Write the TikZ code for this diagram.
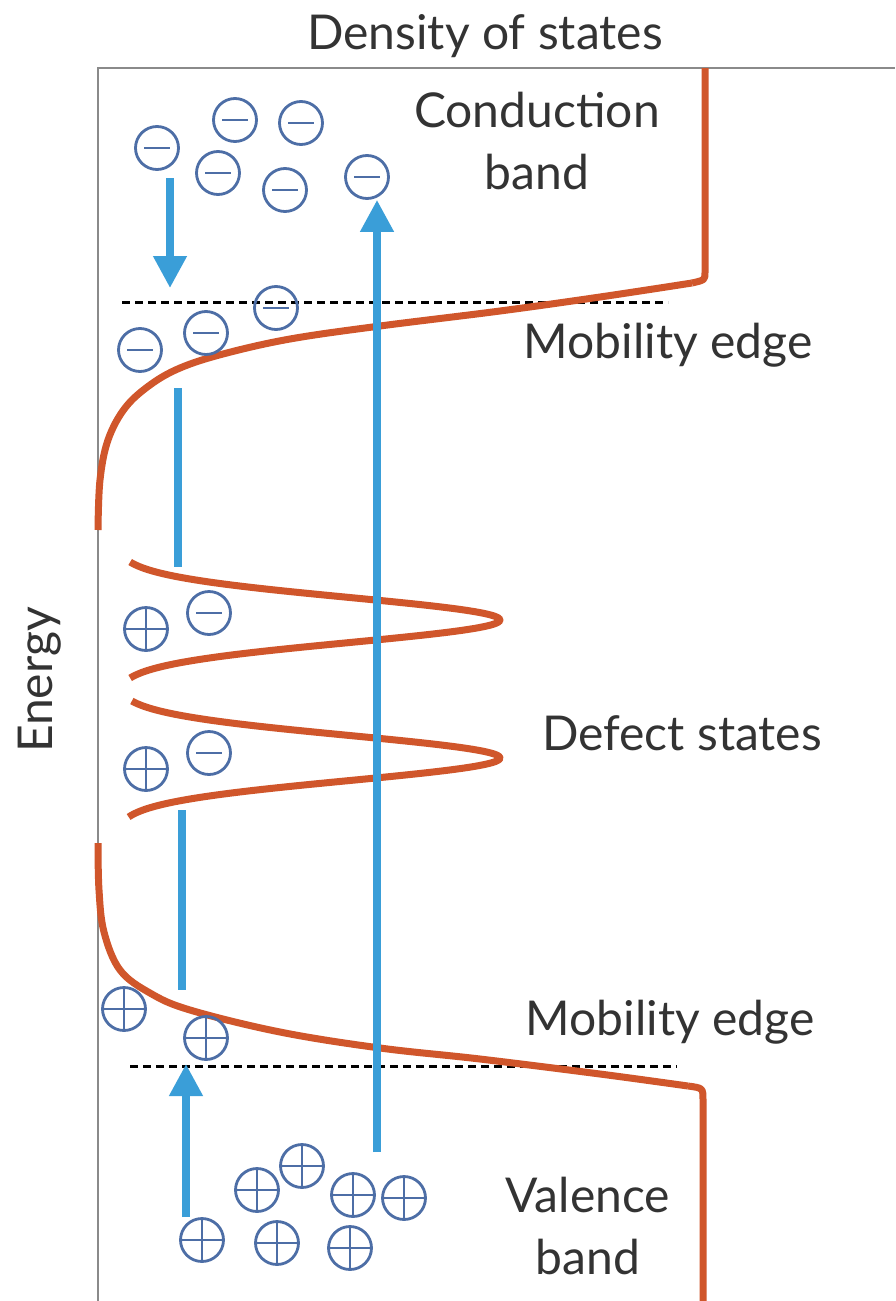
\documentclass[tikz,border=0pt]{standalone}
\usepackage{fontspec}
\setmainfont{Lato}
\usetikzlibrary{arrows.meta}
\definecolor{band}{HTML}{D0562B}
\definecolor{arrblue}{HTML}{3A9ED8}
\definecolor{chgblue}{HTML}{4D6EA6}
\definecolor{axisgray}{HTML}{8A8A8A}
\definecolor{txt}{HTML}{333333}
\tikzset{
  chg/.style={circle, draw=chgblue, line width=2.8pt, minimum size=43pt, inner sep=0pt},
  minus/.style={chg, path picture={\draw[chgblue, line width=2.8pt]
     ([xshift=-13pt]path picture bounding box.center) -- ([xshift=13pt]path picture bounding box.center);}},
  plus/.style={chg, path picture={\draw[chgblue, line width=2.8pt]
     ([xshift=-22pt]path picture bounding box.center) -- ([xshift=22pt]path picture bounding box.center)
     ([yshift=-22pt]path picture bounding box.center) -- ([yshift=22pt]path picture bounding box.center);}},
  bandline/.style={band, line width=7pt, line join=round},
  arr/.style={arrblue, line width=7.5pt, -{Triangle[length=32pt,width=32pt]}},
  seg/.style={arrblue, line width=7.5pt},
  edgeline/.style={black, line width=3pt, dash pattern=on 8pt off 5pt},
  lbl/.style={text=txt, font=\fontsize{48}{62}\selectfont, align=center, inner sep=0pt},
}
\begin{document}
\begin{tikzpicture}[x=1pt, y=-1pt]
\useasboundingbox (0,0) rectangle (895,1301);
\fill[white] (0,0) rectangle (895,1301);
% axes
\draw[axisgray, line width=2pt] (98,1301) -- (98,68) -- (895,68);
% labels
\node[lbl] (dos) at (485,36) {Density of states};
\node[lbl, rotate=90] (energy) at (40,680) {Energy};
\node[lbl] (cb) at (537,141) {Conduction\\band};
\node[lbl] (me1) at (668,345) {Mobility edge};
\node[lbl] (ds) at (682,733) {Defect states};
\node[lbl] (me2) at (670,1022) {Mobility edge};
\node[lbl] (vb) at (588,1226) {Valence\\band};
% mobility edges
\draw[edgeline] (122,302) -- (668,302);
\draw[edgeline] (130,1066) -- (677,1066);
% conduction band tail
\draw[bandline] (705,68) -- (705,272) .. controls (705,280) .. (692,283);
\draw[bandline] plot[smooth, tension=0.6] coordinates {(692,283) (600,297) (500,311) (380,326) (290,339) (223,354) (180,368) (150,385) (125,408) (108,440) (100,480) (98,530)};
% valence band tail
\draw[bandline] plot[smooth, tension=0.6] coordinates {(98,843) (99,890) (104,932) (120,970) (150,993) (190,1010) (280,1032) (380,1048) (480,1059) (600,1074) (688,1086)};
\draw[bandline] (688,1086) .. controls (703,1088) .. (703,1100) -- (703,1301);
% defect peaks (Gaussian)
\draw[bandline] plot[domain=-58:58, samples=80, smooth] ({116+384*exp(-(\x*\x)/1020)}, {620+\x});
\draw[bandline] plot[domain=-57:59, samples=80, smooth] ({116+384*exp(-(\x*\x)/1020)}, {758+\x});
% charges
\node[minus] (m1) at (157,148) {};
\node[minus] (m2) at (235,120) {};
\node[minus] (m3) at (301,123) {};
\node[minus] (m4) at (218,173) {};
\node[minus] (m5) at (285,190) {};
\node[minus] (m6) at (367,177) {};
\node[minus] (m7) at (140,350) {};
\node[minus] (m8) at (206,333) {};
\node[minus] (m9) at (276,308) {};
\node[minus] (m10) at (209,613) {};
\node[plus] (p1) at (146,629) {};
\node[minus] (m11) at (209,753) {};
\node[plus] (p2) at (146,769) {};
\node[plus] (p3) at (124,1009) {};
\node[plus] (p4) at (206,1038) {};
\node[plus] (p5) at (257,1190) {};
\node[plus] (p6) at (302,1166) {};
\node[plus] (p7) at (353,1195) {};
\node[plus] (p8) at (404,1198) {};
\node[plus] (p9) at (202,1240) {};
\node[plus] (p10) at (277,1243) {};
\node[plus] (p11) at (350,1248) {};
% transitions
\coordinate (d1s) at (170,178);
\coordinate (d1e) at (170,288);
\draw[arr] (d1s) -- (d1e);
\coordinate (ls) at (377,1152);
\draw[arr] (ls) -- (ls |- m6.south);
\coordinate (s1a) at (178,388);
\coordinate (s1b) at (178,567);
\draw[seg] (s1a) -- (s1b);
\coordinate (s2a) at (182,810);
\coordinate (s2b) at (182,990);
\draw[seg] (s2a) -- (s2b);
\coordinate (us) at (186,1217);
\coordinate (ue) at (186,1064);
\draw[arr] (us) -- (ue);
\end{tikzpicture}
\end{document}
